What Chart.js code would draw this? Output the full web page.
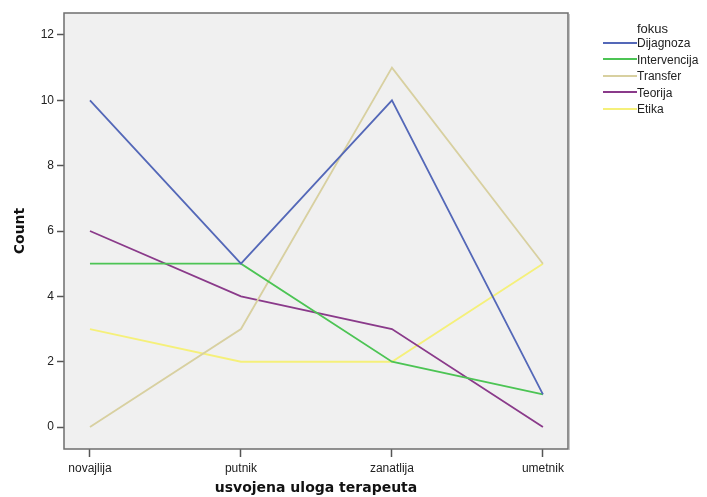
<html>
<head>
    <meta charset="utf-8">
    <title>fokus</title>
    <script src="https://cdn.jsdelivr.net/npm/chart.js"></script>
    <style>
        body { margin: 0; background: #fff; font-family: "Liberation Sans", Arial, sans-serif; }
        #wrap { position: relative; width: 707px; height: 497px; }
        #legend { position: absolute; left: 603px; top: 19px; font-size: 12px; color: #222; }
        #legend .ttl { margin-left: 34px; font-size: 13px; height: 16px; line-height: 16px; padding-top: 2px; margin-bottom: -2px; }
        #legend .row { height: 16.5px; line-height: 16.5px; white-space: nowrap; }
        #legend .sw { display: inline-block; width: 34px; height: 2px; vertical-align: middle; margin-top: -2px; }
    </style>
</head>
<body>
    <div id="wrap">
        <canvas id="myChart" width="707" height="497"></canvas>
        <div id="legend"></div>
    </div>
    <script>
        // categories (x) and counts per fokus
        const categories = ["novajlija", "putnik", "zanatlija", "umetnik"];
        const dijagnoza = [10, 5, 10, 1];
        const intervencija = [5, 5, 2, 1];
        const transfer = [0, 3, 11, 5];
        const teorija = [6, 4, 3, 0];
        const etika = [3, 2, 2, 5];
        const yTicks = [0, 2, 4, 6, 8, 10, 12];

        const series = [
            { label: "Dijagnoza", color: "rgb(84,104,184)", data: dijagnoza },
            { label: "Intervencija", color: "rgb(76,196,84)", data: intervencija },
            { label: "Transfer", color: "rgb(216,208,160)", data: transfer },
            { label: "Teorija", color: "rgb(138,58,138)", data: teorija },
            { label: "Etika", color: "rgb(245,240,122)", data: etika },
        ];

        // ** plot area background + frame
        const framePlugin = {
            id: "frame",
            beforeDatasetsDraw(chart) {
                const a = chart.chartArea, c = chart.ctx;
                c.save();
                c.fillStyle = "#f0f0f0";
                c.fillRect(a.left, a.top, a.right - a.left, a.bottom - a.top);
                c.restore();
            },
            afterDraw(chart) {
                const a = chart.chartArea, c = chart.ctx;
                c.save();
                c.strokeStyle = "#6e6e6e";
                c.lineWidth = 1.5;
                c.strokeRect(a.left, a.top, a.right - a.left, a.bottom - a.top);
                c.strokeStyle = "#c8c8c8";
                c.lineWidth = 1;
                c.beginPath();
                c.moveTo(a.right + 1.5, a.top + 1);
                c.lineTo(a.right + 1.5, a.bottom + 1);
                c.stroke();
                c.restore();
            }
        };

        const data = {
            datasets: series.map(s => ({
                label: s.label,
                borderColor: s.color,
                backgroundColor: s.color,
                borderWidth: 1.8,
                pointRadius: 0,
                tension: 0,
                data: s.data.map((v, i) => ({ x: i, y: v })),
            })),
        };

        const config = {
            type: "line",
            data: data,
            plugins: [framePlugin],
            options: {
                responsive: false,
                animation: false,
                layout: { padding: { left: 0, top: 13, right: 139, bottom: 0 } },
                plugins: { legend: { display: false }, tooltip: { enabled: false } },
                scales: {
                    x: {
                        type: "linear",
                        min: -0.172,
                        max: 3.166,
                        afterFit: s => { s.height = 48; },
                        afterBuildTicks: s => { s.ticks = categories.map((c, i) => ({ value: i })); },
                        ticks: {
                            autoSkip: false,
                            maxRotation: 0,
                            color: "#222",
                            font: { family: "Liberation Sans", size: 12 },
                            padding: 4,
                            callback: v => categories[v],
                        },
                        grid: { drawOnChartArea: false, tickLength: 8, tickWidth: 1.5, color: "#555", offset: false },
                        border: { display: false },
                        title: {
                            display: true,
                            text: "usvojena uloga terapeuta",
                            color: "#111",
                            font: { family: "DejaVu Sans", size: 14, weight: "bold" },
                            padding: { top: -3, bottom: 0 },
                        },
                    },
                    y: {
                        min: -0.67,
                        max: 12.67,
                        afterFit: s => { s.width = 64; },
                        afterBuildTicks: s => { s.ticks = yTicks.map(v => ({ value: v })); },
                        ticks: {
                            color: "#222",
                            font: { family: "Liberation Sans", size: 12 },
                            padding: 3,
                        },
                        grid: { drawOnChartArea: false, tickLength: 7, tickWidth: 1.5, color: "#555" },
                        border: { display: false },
                        title: {
                            display: true,
                            text: "Count",
                            color: "#111",
                            font: { family: "DejaVu Sans", size: 14, weight: "bold" },
                            padding: { top: 12, bottom: 0 },
                        },
                    },
                },
            },
        };

        const ctx = document.getElementById("myChart").getContext("2d");
        const myChart = new Chart(ctx, config);

        // legend drawn as html
        const lg = document.getElementById("legend");
        let html = '<div class="ttl">fokus</div>';
        series.forEach(s => {
            html += '<div class="row"><span class="sw" style="background:' + s.color + '"></span>' + s.label + '</div>';
        });
        lg.innerHTML = html;
    </script>
</body>
</html>
